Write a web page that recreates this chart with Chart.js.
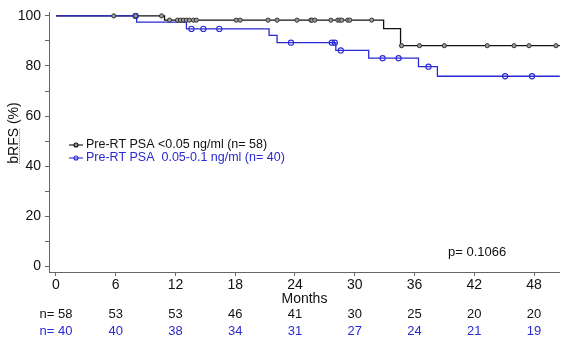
<!DOCTYPE html>
<html>
<head>
<meta charset="utf-8">
<script src="https://cdn.jsdelivr.net/npm/chart.js@4.4.1/dist/chart.umd.min.js"></script>
<style>
  html, body { margin: 0; padding: 0; background: #fff; }
  #wrap { width: 565px; height: 339px; position: relative; }
</style>
</head>
<body>
<div id="wrap"><canvas id="kmChart"></canvas></div>
<script>
// Kaplan-Meier bRFS by pre-RT PSA group
const monthTicks = [0, 6, 12, 18, 24, 30, 36, 42, 48];
const atRiskLow = [58, 53, 53, 46, 41, 30, 25, 20, 20];
const atRiskHigh = [40, 40, 38, 34, 31, 27, 24, 21, 19];

// step changes: time (months) and survival (%) after the drop
const lowTimes = [0, 10.9, 32.9, 34.6, 50.6];
const lowSurv = [100, 98.3, 94.9, 88.1, 88.1];
const lowCensored = [5.8, 8.0, 10.6, 11.4, 12.2, 12.5, 12.8, 13.1, 13.4, 13.8, 14.1,
  18.1, 18.5, 21.3, 22.2, 24.2, 25.6, 25.7, 26.0, 27.6, 28.3, 28.5, 28.7, 29.3, 29.5,
  31.7, 34.7, 36.5, 39.0, 43.3, 46.0, 47.5, 50.2];

const highTimes = [0, 8.1, 13.1, 21.4, 22.2, 28.1, 31.4, 36.4, 38.3, 50.6];
const highSurv = [100, 97.5, 94.8, 92.2, 89.3, 86.2, 83.1, 79.7, 75.9, 75.9];
const highCensored = [8.0, 13.6, 14.8, 16.4, 23.6, 27.7, 28.0, 28.6, 32.8, 34.4, 37.4, 45.1, 47.8];

const labelLow = 'Pre-RT PSA <0.05 ng/ml (n= 58)';
const labelHigh = 'Pre-RT PSA  0.05-0.1 ng/ml (n= 40)';
const pValue = 'p= 0.1066';

const BLACK = '#111111';
const BLUE = '#2a2ad2';
const AXIS = '#666666';
const FONT = '"Liberation Sans", Arial, sans-serif';

function stepPoints(times, surv) {
  return times.map((t, i) => ({ x: t, y: surv[i] }));
}

// survival level in force at time t
function levelAt(times, surv, t) {
  let s = surv[0];
  for (let i = 0; i < times.length; i++) {
    if (times[i] <= t) s = surv[i];
  }
  return s;
}

function censorPoints(list, times, surv) {
  return list.map(t => ({ x: t, y: levelAt(times, surv, t) }));
}

const extrasPlugin = {
  id: 'kmExtras',
  afterDraw(chart) {
    const ctx = chart.ctx;
    const xs = chart.scales.x;
    const area = chart.chartArea;
    ctx.save();

    // y axis title
    ctx.font = '14px ' + FONT;
    ctx.fillStyle = BLACK;
    ctx.translate(14, 133);
    ctx.rotate(-Math.PI / 2);
    ctx.textAlign = 'center';
    ctx.textBaseline = 'middle';
    const title = 'bRFS (%)';
    ctx.fillText(title, 0, 0);
    const w = ctx.measureText(title).width;
    const wb = ctx.measureText('bRFS').width;
    ctx.strokeStyle = '#e05050';
    ctx.lineWidth = 1;
    ctx.setLineDash([1, 1]);
    ctx.beginPath();
    ctx.moveTo(-w / 2, 5.5);
    ctx.lineTo(-w / 2 + wb, 5.5);
    ctx.stroke();
    ctx.setLineDash([]);
    ctx.setTransform(1, 0, 0, 1, 0, 0);

    // x axis title
    ctx.textAlign = 'center';
    ctx.textBaseline = 'middle';
    ctx.fillStyle = BLACK;
    ctx.fillText('Months', (area.left + area.right) / 2, 299);

    // numbers at risk
    ctx.font = '13px ' + FONT;
    monthTicks.forEach((m, i) => {
      const px = xs.getPixelForValue(m);
      const pre = i === 0 ? 'n= ' : '';
      ctx.fillStyle = BLACK;
      ctx.fillText(pre + atRiskLow[i], px, 314);
      ctx.fillStyle = BLUE;
      ctx.fillText(pre + atRiskHigh[i], px, 331);
    });

    // p value
    ctx.fillStyle = BLACK;
    ctx.textAlign = 'left';
    ctx.fillText(pValue, 448, 252);

    // legend
    ctx.font = '12.5px ' + FONT;
    const rows = [
      { text: labelLow, color: BLACK, fill: '#999', y: 145 },
      { text: labelHigh, color: BLUE, fill: 'rgba(255,255,255,0)', y: 158 }
    ];
    rows.forEach(r => {
      ctx.strokeStyle = r.color;
      ctx.lineWidth = 1.1;
      ctx.beginPath();
      ctx.moveTo(69, r.y);
      ctx.lineTo(83, r.y);
      ctx.stroke();
      ctx.beginPath();
      ctx.arc(76, r.y, 2, 0, Math.PI * 2);
      ctx.fillStyle = r.fill;
      ctx.fill();
      ctx.stroke();
      ctx.fillStyle = r.color;
      ctx.fillText(r.text, 86, r.y);
    });

    ctx.restore();
  }
};

const ctx = document.getElementById('kmChart').getContext('2d');
new Chart(ctx, {
  type: 'line',
  data: {
    datasets: [
      {
        data: censorPoints(lowCensored, lowTimes, lowSurv),
        showLine: false,
        pointStyle: 'circle',
        pointRadius: 2.1,
        pointBackgroundColor: '#9a9a9a',
        pointBorderColor: '#333',
        pointBorderWidth: 1
      },
      {
        data: censorPoints(highCensored, highTimes, highSurv),
        showLine: false,
        pointStyle: 'circle',
        pointRadius: 2.6,
        pointBackgroundColor: 'rgba(255,255,255,0)',
        pointBorderColor: BLUE,
        pointBorderWidth: 1.1
      },
      {
        data: stepPoints(highTimes, highSurv),
        stepped: true,
        borderColor: BLUE,
        borderWidth: 1.3,
        pointRadius: 0,
        fill: false
      },
      {
        data: stepPoints(lowTimes, lowSurv),
        stepped: true,
        borderColor: BLACK,
        borderWidth: 1.3,
        pointRadius: 0,
        fill: false
      }
    ]
  },
  options: {
    responsive: true,
    maintainAspectRatio: false,
    animation: false,
    layout: { padding: { top: 2, right: 2, left: 0, bottom: 0 } },
    plugins: {
      legend: { display: false },
      tooltip: { enabled: false }
    },
    scales: {
      x: {
        type: 'linear',
        min: -0.7,
        max: 50.6,
        afterBuildTicks: s => { s.ticks = monthTicks.map(v => ({ value: v })); },
        afterFit: s => { s.height = 67; },
        grid: { drawOnChartArea: false, tickLength: 4, color: AXIS },
        border: { color: AXIS, width: 1 },
        ticks: {
          font: { family: FONT, size: 14 },
          color: BLACK,
          padding: 1,
          maxRotation: 0,
          autoSkip: false
        }
      },
      y: {
        type: 'linear',
        min: -2.3,
        max: 101.4,
        afterBuildTicks: s => {
          const t = [];
          for (let v = 0; v <= 100; v += 10) t.push({ value: v });
          s.ticks = t;
        },
        afterFit: s => { s.width = 49; },
        grid: { drawOnChartArea: false, tickLength: 4, color: AXIS },
        border: { color: AXIS, width: 1 },
        ticks: {
          font: { family: FONT, size: 14 },
          color: BLACK,
          padding: 4,
          autoSkip: false,
          callback: v => (v % 20 === 0 ? v : '')
        }
      }
    }
  },
  plugins: [extrasPlugin]
});
</script>
</body>
</html>
